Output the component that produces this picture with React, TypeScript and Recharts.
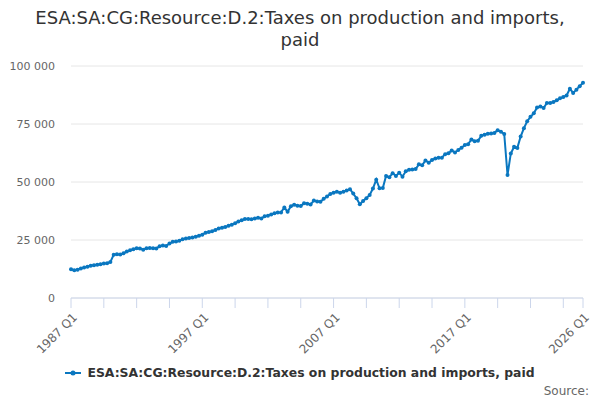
import { CartesianGrid, Line, LineChart, XAxis, YAxis } from "recharts";

const seriesName = "ESA:SA:CG:Resource:D.2:Taxes on production and imports, paid";
const startYear = 1987;

// quarterly values, 1987 Q1 .. 2026 Q1
const taxValues = [
  12400, 12000, 12200, 12700,
  13200, 13500, 13900, 14100,
  14300, 14600, 14900, 15000,
  15500, 18600, 18900, 18700,
  19300, 20000, 20600, 21000,
  21400, 21300, 20800, 21400,
  21500, 21400, 21300, 22300,
  22600, 22400, 23500, 24200,
  24300, 24700, 25300, 25600,
  25900, 26100, 26400, 26800,
  27300, 28100, 28400, 28800,
  29300, 30000, 30300, 30600,
  31100, 31600, 32200, 33000,
  33500, 34000, 34000, 33900,
  34300, 34600, 34300, 35200,
  35500, 36000, 36500, 36800,
  36900, 39000, 37200, 39600,
  40200, 39800, 39700, 40800,
  40600, 40300, 42000, 41600,
  41500, 42800, 43800, 44800,
  45400, 45800, 45400, 45800,
  46300, 46900, 45000, 43000,
  40400, 41800, 43000, 44400,
  47200, 51000, 47300, 47400,
  52600, 52000, 53800, 52600,
  54000, 52300, 54600, 55300,
  55400, 55600, 57600, 57200,
  59300, 58300, 59500, 60100,
  60400, 60500, 62000, 62400,
  63600, 62700, 63800, 64800,
  66000, 66300, 68300, 67600,
  67800, 69900, 70400, 70800,
  70900, 71100, 72300, 71700,
  70700, 53000, 62300, 65200,
  64700, 69600, 73200, 76200,
  78100, 79600, 82100, 82500,
  81900, 84100, 84100, 84500,
  85200, 86100, 86600, 87300,
  90200, 88400, 89800, 91300,
  92800,
];

const xTicks = [0, 10, 20, 30, 40, 50, 60, 70, 80, 90, 100, 110, 120, 130, 140, 150, 156];
const xTickLabels: Record<number, string> = {
  0: "1987 Q1",
  40: "1997 Q1",
  80: "2007 Q1",
  120: "2017 Q1",
  156: "2026 Q1",
};
const yTicks = [0, 25000, 50000, 75000, 100000];

const BLUE = "#0a77c0";

const data = taxValues.map((value, i) => ({
  i,
  quarter: `${startYear + Math.floor(i / 4)} Q${(i % 4) + 1}`,
  value,
}));

const formatThousands = (v: number) =>
  String(v).replace(/\B(?=(\d{3})+(?!\d))/g, " ");

function QuarterTick({ x, y, payload }: any) {
  const label = xTickLabels[payload.value];
  if (!label) return null;
  const tx = x + 7;
  const ty = y + 8;
  return (
    <text
      x={tx}
      y={ty}
      fill="#666666"
      fontSize={12}
      textAnchor="end"
      transform={`rotate(-45, ${tx}, ${ty})`}
    >
      {label}
    </text>
  );
}

export default function App() {
  return (
    <div
      style={{
        position: "absolute",
        left: 0,
        top: 0,
        width: 600,
        height: 400,
        background: "#ffffff",
        fontFamily: "'DejaVu Sans', sans-serif",
      }}
    >
      <div
        style={{
          position: "absolute",
          top: 7,
          left: 0,
          width: 600,
          textAlign: "center",
          fontSize: 18,
          lineHeight: "22px",
          color: "#333333",
        }}
      >
        ESA:SA:CG:Resource:D.2:Taxes on production and imports,
        <br />
        paid
      </div>

      <LineChart
        width={600}
        height={400}
        data={data}
        margin={{ top: 66, right: 17, bottom: 0, left: 0 }}
      >
        <CartesianGrid vertical={false} stroke="#e6e6e6" />
        <XAxis
          dataKey="i"
          type="number"
          domain={[0, 156]}
          ticks={xTicks}
          interval={0}
          height={102}
          tickSize={10}
          axisLine={{ stroke: "#ccd6eb" }}
          tickLine={{ stroke: "#ccd6eb" }}
          tick={<QuarterTick />}
        />
        <YAxis
          domain={[0, 100000]}
          ticks={yTicks}
          width={71}
          axisLine={false}
          tickLine={false}
          tickMargin={10}
          tickFormatter={formatThousands}
          tick={{ fill: "#666666", fontSize: 11 }}
        />
        <Line
          type="linear"
          dataKey="value"
          name={seriesName}
          stroke={BLUE}
          strokeWidth={2}
          dot={{ r: 2, fill: BLUE, stroke: BLUE, strokeWidth: 0 }}
          isAnimationActive={false}
        />
      </LineChart>

      <div
        style={{
          position: "absolute",
          top: 365,
          left: 0,
          width: 600,
          display: "flex",
          justifyContent: "center",
          alignItems: "center",
          fontSize: 12.4,
          fontWeight: "bold",
          color: "#333333",
        }}
      >
        <svg width={16} height={12} style={{ marginRight: 6 }}>
          <line x1={0} y1={6} x2={16} y2={6} stroke={BLUE} strokeWidth={2} />
          <circle cx={8} cy={6} r={2.5} fill={BLUE} />
        </svg>
        {seriesName}
      </div>

      <div
        style={{
          position: "absolute",
          top: 384,
          right: 11,
          fontSize: 12,
          color: "#666666",
        }}
      >
        Source:
      </div>
    </div>
  );
}
